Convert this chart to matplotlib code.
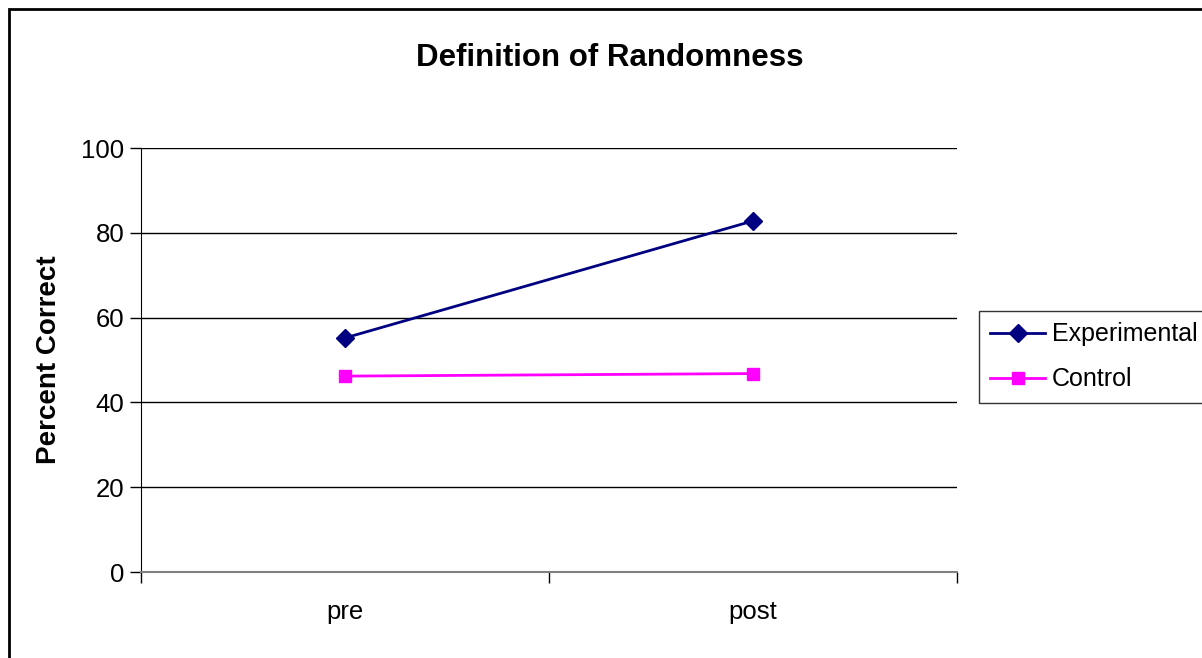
"""
Definition of Randomness: percent correct pre/post, Excel-style line chart.
"""

import matplotlib
matplotlib.use("Agg")
import matplotlib.pyplot as plt
from matplotlib.patches import Rectangle

plt.rcParams["font.family"] = ["Liberation Sans", "DejaVu Sans"]

categories = ["pre", "post"]
experimental = [55.2, 82.8]
control = [46.2, 46.8]
y_ticks = [0, 20, 40, 60, 80, 100]

W, H = 1202, 658
fig = plt.figure(figsize=(W / 100, H / 100), dpi=100)
fig.patch.set_facecolor("white")

# outer chart frame (right and bottom run off the image)
fig.patches.append(Rectangle((8.5 / W, -0.05), 1.1, 1 - 8.5 / H + 0.05,
                             transform=fig.transFigure, fill=False,
                             edgecolor="black", linewidth=2))

ax = fig.add_axes([141 / W, (H - 572) / H, (957 - 141) / W, (572 - 148) / H])
x = list(range(len(categories)))

for yv in y_ticks[1:]:
    ax.axhline(yv, color="black", linewidth=1, zorder=1)

ax.plot(x, experimental, color="#000080", linewidth=2, marker="D", markersize=9,
        label="Experimental", zorder=3)
ax.plot(x, control, color="#FF00FF", linewidth=2, marker="s", markersize=9,
        label="Control", zorder=3)

ax.set_xlim(-0.5, 1.5)
ax.set_ylim(0, 100)
ax.set_yticks(y_ticks)
ax.set_yticklabels([str(v) for v in y_ticks], fontsize=18.5)
ax.set_xticks([-0.5, 0.5, 1.5])
ax.set_xticklabels([])
ax.set_xticks(x, minor=True)
ax.set_xticklabels(categories, minor=True, fontsize=18.5)
ax.tick_params(axis="x", which="minor", length=0, pad=20)
ax.tick_params(axis="x", which="major", length=8, width=1, color="black", direction="out")
ax.tick_params(axis="y", length=8, width=1, direction="out", pad=4)

for side in ["top", "right"]:
    ax.spines[side].set_visible(False)
ax.spines["left"].set_color("black")
ax.spines["bottom"].set_color("#808080")
ax.spines["bottom"].set_linewidth(1.5)

ax.set_ylabel("Percent Correct", fontsize=20, fontweight="bold", labelpad=14)
fig.text(610 / W, 1 - 58 / H, "Definition of Randomness", fontsize=22.5,
         fontweight="bold", ha="center", va="center")

leg = ax.legend(loc="upper left", bbox_to_anchor=(979 / W, 1 - 311 / H),
                bbox_transform=fig.transFigure, fontsize=18, frameon=True,
                fancybox=False, edgecolor="black", borderaxespad=0,
                handlelength=2.2, handletextpad=0.25,
                labelspacing=0.85, borderpad=0.45)
leg.get_frame().set_linewidth(1)

fig.savefig("out.png", dpi=100, facecolor="white")
